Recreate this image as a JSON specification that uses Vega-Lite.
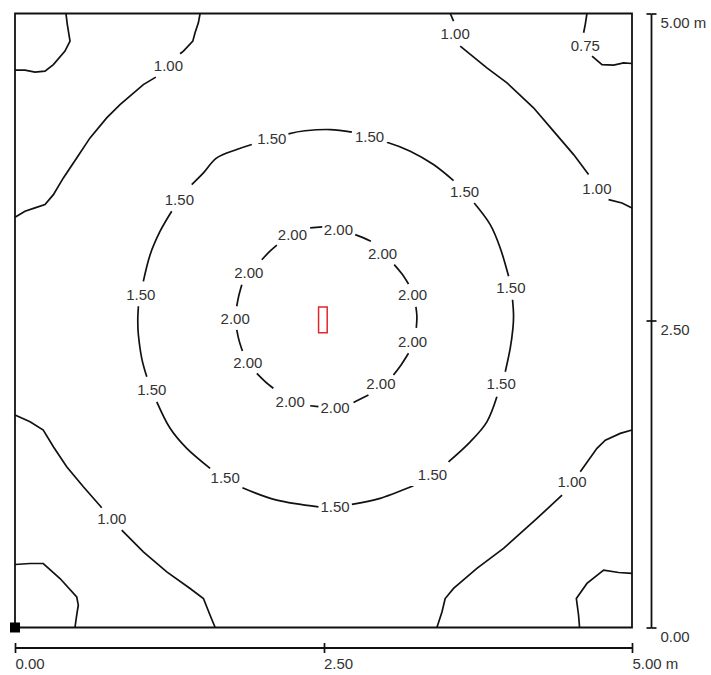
{
  "$schema": "https://vega.github.io/schema/vega-lite/v6.json",
  "width": 617,
  "height": 614,
  "autosize": "none",
  "padding": {"left": 15, "top": 13.5, "right": 79, "bottom": 47.5},
  "background": "white",
  "config": {
    "font": "Liberation Sans",
    "view": {"stroke": "#111111", "strokeWidth": 1.8},
    "axis": {"grid": false, "title": null}
  },
  "datasets": {
    "rings": [
      {"s": "r2a", "i": 1, "x": 3.252, "y": 2.44}, {"s": "r2a", "i": 2, "x": 3.257, "y": 2.53}, {"s": "r2a", "i": 3, "x": 3.249, "y": 2.61},
      {"s": "r2b", "i": 1, "x": 3.189, "y": 2.797}, {"s": "r2b", "i": 2, "x": 3.135, "y": 2.88}, {"s": "r2b", "i": 3, "x": 3.073, "y": 2.955},
      {"s": "r2c", "i": 1, "x": 2.884, "y": 3.145}, {"s": "r2c", "i": 2, "x": 2.82, "y": 3.175}, {"s": "r2c", "i": 3, "x": 2.757, "y": 3.199},
      {"s": "r2d", "i": 1, "x": 2.49, "y": 3.262}, {"s": "r2d", "i": 2, "x": 2.392, "y": 3.254},
      {"s": "r2e", "i": 1, "x": 2.122, "y": 3.113}, {"s": "r2e", "i": 2, "x": 2.06, "y": 3.058}, {"s": "r2e", "i": 3, "x": 2.0, "y": 2.995},
      {"s": "r2f", "i": 1, "x": 1.838, "y": 2.792}, {"s": "r2f", "i": 2, "x": 1.813, "y": 2.7}, {"s": "r2f", "i": 3, "x": 1.797, "y": 2.616},
      {"s": "r2g", "i": 1, "x": 1.797, "y": 2.423}, {"s": "r2g", "i": 2, "x": 1.815, "y": 2.34}, {"s": "r2g", "i": 3, "x": 1.843, "y": 2.251},
      {"s": "r2h", "i": 1, "x": 1.96, "y": 2.07}, {"s": "r2h", "i": 2, "x": 2.025, "y": 2.005}, {"s": "r2h", "i": 3, "x": 2.094, "y": 1.948},
      {"s": "r2i", "i": 1, "x": 2.392, "y": 1.806}, {"s": "r2i", "i": 2, "x": 2.459, "y": 1.798},
      {"s": "r2j", "i": 1, "x": 2.743, "y": 1.833}, {"s": "r2j", "i": 2, "x": 2.864, "y": 1.893},
      {"s": "r2k", "i": 1, "x": 3.067, "y": 2.056}, {"s": "r2k", "i": 2, "x": 3.13, "y": 2.14}, {"s": "r2k", "i": 3, "x": 3.189, "y": 2.233},
      {"s": "r15a", "i": 1, "x": 3.973, "y": 2.083}, {"s": "r15a", "i": 2, "x": 4.013, "y": 2.273}, {"s": "r15a", "i": 3, "x": 4.035, "y": 2.436}, {"s": "r15a", "i": 4, "x": 4.04, "y": 2.545}, {"s": "r15a", "i": 5, "x": 4.032, "y": 2.669},
      {"s": "r15b", "i": 1, "x": 4.0, "y": 2.86}, {"s": "r15b", "i": 2, "x": 3.932, "y": 3.091}, {"s": "r15b", "i": 3, "x": 3.851, "y": 3.281}, {"s": "r15b", "i": 4, "x": 3.721, "y": 3.457},
      {"s": "r15c", "i": 1, "x": 3.554, "y": 3.639}, {"s": "r15c", "i": 2, "x": 3.391, "y": 3.77}, {"s": "r15c", "i": 3, "x": 3.203, "y": 3.879}, {"s": "r15c", "i": 4, "x": 3.014, "y": 3.952},
      {"s": "r15d", "i": 1, "x": 2.73, "y": 4.034}, {"s": "r15d", "i": 2, "x": 2.554, "y": 4.055}, {"s": "r15d", "i": 3, "x": 2.35, "y": 4.045}, {"s": "r15d", "i": 4, "x": 2.216, "y": 4.02},
      {"s": "r15e", "i": 1, "x": 1.919, "y": 3.933}, {"s": "r15e", "i": 2, "x": 1.797, "y": 3.892}, {"s": "r15e", "i": 3, "x": 1.635, "y": 3.824}, {"s": "r15e", "i": 4, "x": 1.527, "y": 3.702}, {"s": "r15e", "i": 5, "x": 1.432, "y": 3.607},
      {"s": "r15f", "i": 1, "x": 1.27, "y": 3.39}, {"s": "r15f", "i": 2, "x": 1.176, "y": 3.227}, {"s": "r15f", "i": 3, "x": 1.095, "y": 3.036}, {"s": "r15f", "i": 4, "x": 1.04, "y": 2.819},
      {"s": "r15g", "i": 1, "x": 1.0, "y": 2.616}, {"s": "r15g", "i": 2, "x": 0.995, "y": 2.5}, {"s": "r15g", "i": 3, "x": 1.0, "y": 2.382}, {"s": "r15g", "i": 4, "x": 1.027, "y": 2.192}, {"s": "r15g", "i": 5, "x": 1.068, "y": 2.042},
      {"s": "r15h", "i": 1, "x": 1.149, "y": 1.838}, {"s": "r15h", "i": 2, "x": 1.257, "y": 1.622}, {"s": "r15h", "i": 3, "x": 1.392, "y": 1.459}, {"s": "r15h", "i": 4, "x": 1.581, "y": 1.296},
      {"s": "r15i", "i": 1, "x": 1.843, "y": 1.138}, {"s": "r15i", "i": 2, "x": 2.122, "y": 1.037}, {"s": "r15i", "i": 3, "x": 2.459, "y": 0.983},
      {"s": "r15j", "i": 1, "x": 2.73, "y": 1.002}, {"s": "r15j", "i": 2, "x": 2.959, "y": 1.051}, {"s": "r15j", "i": 3, "x": 3.229, "y": 1.154},
      {"s": "r15k", "i": 1, "x": 3.513, "y": 1.349}, {"s": "r15k", "i": 2, "x": 3.689, "y": 1.512}, {"s": "r15k", "i": 3, "x": 3.824, "y": 1.675}, {"s": "r15k", "i": 4, "x": 3.905, "y": 1.879}
    ],
    "edges": [
      {"s": "tl1", "i": 1, "x": 1.5, "y": 5.0}, {"s": "tl1", "i": 2, "x": 1.486, "y": 4.924}, {"s": "tl1", "i": 3, "x": 1.459, "y": 4.843}, {"s": "tl1", "i": 4, "x": 1.441, "y": 4.775}, {"s": "tl1", "i": 5, "x": 1.365, "y": 4.694}, {"s": "tl1", "i": 6, "x": 1.338, "y": 4.672},
      {"s": "tl2", "i": 1, "x": 1.141, "y": 4.482}, {"s": "tl2", "i": 2, "x": 1.04, "y": 4.421}, {"s": "tl2", "i": 3, "x": 0.851, "y": 4.258}, {"s": "tl2", "i": 4, "x": 0.743, "y": 4.15}, {"s": "tl2", "i": 5, "x": 0.608, "y": 3.987}, {"s": "tl2", "i": 6, "x": 0.5, "y": 3.824}, {"s": "tl2", "i": 7, "x": 0.392, "y": 3.661}, {"s": "tl2", "i": 8, "x": 0.311, "y": 3.525}, {"s": "tl2", "i": 9, "x": 0.243, "y": 3.444}, {"s": "tl2", "i": 10, "x": 0.162, "y": 3.417}, {"s": "tl2", "i": 11, "x": 0.081, "y": 3.39}, {"s": "tl2", "i": 12, "x": 0.0, "y": 3.341},
      {"s": "tlc", "i": 1, "x": 0.413, "y": 5.0}, {"s": "tlc", "i": 2, "x": 0.424, "y": 4.91}, {"s": "tlc", "i": 3, "x": 0.446, "y": 4.775}, {"s": "tlc", "i": 4, "x": 0.405, "y": 4.694}, {"s": "tlc", "i": 5, "x": 0.311, "y": 4.584}, {"s": "tlc", "i": 6, "x": 0.243, "y": 4.531}, {"s": "tlc", "i": 7, "x": 0.162, "y": 4.522}, {"s": "tlc", "i": 8, "x": 0.081, "y": 4.539}, {"s": "tlc", "i": 9, "x": 0.0, "y": 4.539},
      {"s": "tr1", "i": 1, "x": 3.527, "y": 5.0}, {"s": "tr1", "i": 2, "x": 3.554, "y": 4.938},
      {"s": "tr2", "i": 1, "x": 3.608, "y": 4.734}, {"s": "tr2", "i": 2, "x": 3.824, "y": 4.557}, {"s": "tr2", "i": 3, "x": 3.987, "y": 4.435}, {"s": "tr2", "i": 4, "x": 4.202, "y": 4.232}, {"s": "tr2", "i": 5, "x": 4.364, "y": 4.042}, {"s": "tr2", "i": 6, "x": 4.527, "y": 3.851}, {"s": "tr2", "i": 7, "x": 4.648, "y": 3.688},
      {"s": "tr3", "i": 1, "x": 4.81, "y": 3.484}, {"s": "tr3", "i": 2, "x": 4.919, "y": 3.457}, {"s": "tr3", "i": 3, "x": 5.0, "y": 3.417},
      {"s": "trc1", "i": 1, "x": 4.635, "y": 5.0}, {"s": "trc1", "i": 2, "x": 4.621, "y": 4.91}, {"s": "trc1", "i": 3, "x": 4.608, "y": 4.843},
      {"s": "trc2", "i": 1, "x": 4.676, "y": 4.653}, {"s": "trc2", "i": 2, "x": 4.757, "y": 4.584}, {"s": "trc2", "i": 3, "x": 4.851, "y": 4.579}, {"s": "trc2", "i": 4, "x": 4.932, "y": 4.598}, {"s": "trc2", "i": 5, "x": 5.0, "y": 4.593},
      {"s": "br1", "i": 1, "x": 5.0, "y": 1.608}, {"s": "br1", "i": 2, "x": 4.905, "y": 1.581}, {"s": "br1", "i": 3, "x": 4.784, "y": 1.526}, {"s": "br1", "i": 4, "x": 4.716, "y": 1.459}, {"s": "br1", "i": 5, "x": 4.581, "y": 1.268},
      {"s": "br2", "i": 1, "x": 4.433, "y": 1.078}, {"s": "br2", "i": 2, "x": 4.23, "y": 0.888}, {"s": "br2", "i": 3, "x": 3.959, "y": 0.644}, {"s": "br2", "i": 4, "x": 3.743, "y": 0.481}, {"s": "br2", "i": 5, "x": 3.554, "y": 0.318}, {"s": "br2", "i": 6, "x": 3.486, "y": 0.236}, {"s": "br2", "i": 7, "x": 3.46, "y": 0.127}, {"s": "br2", "i": 8, "x": 3.419, "y": 0.0},
      {"s": "brc", "i": 1, "x": 5.0, "y": 0.44}, {"s": "brc", "i": 2, "x": 4.892, "y": 0.448}, {"s": "brc", "i": 3, "x": 4.77, "y": 0.467}, {"s": "brc", "i": 4, "x": 4.635, "y": 0.359}, {"s": "brc", "i": 5, "x": 4.549, "y": 0.236}, {"s": "brc", "i": 6, "x": 4.567, "y": 0.1}, {"s": "brc", "i": 7, "x": 4.575, "y": 0.0},
      {"s": "bl1", "i": 1, "x": 0.0, "y": 1.73}, {"s": "bl1", "i": 2, "x": 0.122, "y": 1.675}, {"s": "bl1", "i": 3, "x": 0.229, "y": 1.608}, {"s": "bl1", "i": 4, "x": 0.311, "y": 1.472}, {"s": "bl1", "i": 5, "x": 0.419, "y": 1.309}, {"s": "bl1", "i": 6, "x": 0.554, "y": 1.146}, {"s": "bl1", "i": 7, "x": 0.703, "y": 0.975},
      {"s": "bl2", "i": 1, "x": 0.865, "y": 0.793}, {"s": "bl2", "i": 2, "x": 1.04, "y": 0.616}, {"s": "bl2", "i": 3, "x": 1.23, "y": 0.453}, {"s": "bl2", "i": 4, "x": 1.419, "y": 0.318}, {"s": "bl2", "i": 5, "x": 1.527, "y": 0.236}, {"s": "bl2", "i": 6, "x": 1.581, "y": 0.1}, {"s": "bl2", "i": 7, "x": 1.622, "y": 0.0},
      {"s": "blc", "i": 1, "x": 0.0, "y": 0.513}, {"s": "blc", "i": 2, "x": 0.122, "y": 0.521}, {"s": "blc", "i": 3, "x": 0.229, "y": 0.521}, {"s": "blc", "i": 4, "x": 0.365, "y": 0.399}, {"s": "blc", "i": 5, "x": 0.5, "y": 0.249}, {"s": "blc", "i": 6, "x": 0.513, "y": 0.182}, {"s": "blc", "i": 7, "x": 0.5, "y": 0.1}, {"s": "blc", "i": 8, "x": 0.486, "y": 0.0}
    ],
    "labels": [
      {"t": "1.00", "x": 1.243, "y": 4.571},
      {"t": "1.00", "x": 3.567, "y": 4.829},
      {"t": "1.00", "x": 4.716, "y": 3.572},
      {"t": "1.00", "x": 4.514, "y": 1.182},
      {"t": "1.00", "x": 0.784, "y": 0.882},
      {"t": "0.75", "x": 4.621, "y": 4.739},
      {"t": "1.50", "x": 2.081, "y": 3.979},
      {"t": "1.50", "x": 2.873, "y": 3.998},
      {"t": "1.50", "x": 3.643, "y": 3.547},
      {"t": "1.50", "x": 4.019, "y": 2.765},
      {"t": "1.50", "x": 3.94, "y": 1.983},
      {"t": "1.50", "x": 3.383, "y": 1.241},
      {"t": "1.50", "x": 2.594, "y": 0.983},
      {"t": "1.50", "x": 1.703, "y": 1.214},
      {"t": "1.50", "x": 1.108, "y": 1.934},
      {"t": "1.50", "x": 1.019, "y": 2.71},
      {"t": "1.50", "x": 1.332, "y": 3.479},
      {"t": "2.00", "x": 2.248, "y": 3.194},
      {"t": "2.00", "x": 2.621, "y": 3.24},
      {"t": "2.00", "x": 2.978, "y": 3.042},
      {"t": "2.00", "x": 3.221, "y": 2.705},
      {"t": "2.00", "x": 3.221, "y": 2.327},
      {"t": "2.00", "x": 2.965, "y": 1.98},
      {"t": "2.00", "x": 2.594, "y": 1.789},
      {"t": "2.00", "x": 2.23, "y": 1.838},
      {"t": "2.00", "x": 1.887, "y": 2.156},
      {"t": "2.00", "x": 1.784, "y": 2.512},
      {"t": "2.00", "x": 1.895, "y": 2.887}
    ],
    "lum": [{"x1": 2.46, "x2": 2.53, "y1": 2.4, "y2": 2.61}],
    "origin": [{"x": 0, "y": 0}]
  },
  "layer": [
    {
      "data": {"name": "rings"},
      "mark": {"type": "line", "interpolate": "cardinal", "color": "#111111", "strokeWidth": 1.7},
      "encoding": {
        "x": {"field": "x", "type": "quantitative", "scale": {"domain": [0, 5], "nice": false, "zero": false},
          "axis": {"orient": "bottom", "offset": 20, "values": [0, 2.5, 5], "tickSize": 5, "tickWidth": 1.7, "tickColor": "#111111", "domainColor": "#111111", "domainWidth": 1.8,
            "labelAlign": "left", "labelBaseline": "top", "labelPadding": 4, "labelFontSize": 15, "labelFont": "Liberation Sans", "labelColor": "#333333",
            "labelFlush": false, "labelOverlap": false, "labelBound": false,
            "labelExpr": "datum.value == 5 ? '5.00 m' : format(datum.value, '.2f')"}},
        "y": {"field": "y", "type": "quantitative", "scale": {"domain": [0, 5], "nice": false, "zero": false},
          "axis": {"orient": "right", "offset": 19, "values": [0, 2.5, 5], "tickSize": 5, "tickWidth": 1.7, "tickColor": "#111111", "domainColor": "#111111", "domainWidth": 1.8,
            "labelAlign": "left", "labelBaseline": "top", "labelPadding": 4, "labelOffset": 2, "labelFontSize": 15, "labelFont": "Liberation Sans", "labelColor": "#333333",
            "labelFlush": false, "labelOverlap": false, "labelBound": false,
            "labelExpr": "datum.value == 5 ? '5.00 m' : format(datum.value, '.2f')"}},
        "detail": {"field": "s"},
        "order": {"field": "i", "type": "quantitative"}
      }
    },
    {
      "data": {"name": "edges"},
      "mark": {"type": "line", "interpolate": "linear", "color": "#111111", "strokeWidth": 1.7},
      "encoding": {
        "x": {"field": "x", "type": "quantitative", "scale": {"domain": [0, 5], "nice": false, "zero": false},
          "axis": {"orient": "bottom", "offset": 20, "values": [0, 2.5, 5], "tickSize": -5, "tickWidth": 1.7, "tickColor": "#111111", "domain": false, "labels": false}},
        "y": {"field": "y", "type": "quantitative", "scale": {"domain": [0, 5], "nice": false, "zero": false},
          "axis": {"orient": "right", "offset": 19, "values": [0, 2.5, 5], "tickSize": -5, "tickWidth": 1.7, "tickColor": "#111111", "domain": false, "labels": false}},
        "detail": {"field": "s"},
        "order": {"field": "i", "type": "quantitative"}
      }
    },
    {
      "data": {"name": "labels"},
      "mark": {"type": "text", "font": "Liberation Sans", "fontSize": 15, "color": "#333333", "align": "center", "baseline": "middle"},
      "encoding": {
        "x": {"field": "x", "type": "quantitative", "axis": null},
        "y": {"field": "y", "type": "quantitative", "axis": null},
        "text": {"field": "t"}
      }
    },
    {
      "data": {"name": "lum"},
      "mark": {"type": "rect", "fill": null, "fillOpacity": 0, "stroke": "#e3262b", "strokeWidth": 1.5},
      "encoding": {
        "x": {"field": "x1", "type": "quantitative", "axis": null},
        "x2": {"field": "x2"},
        "y": {"field": "y1", "type": "quantitative", "axis": null},
        "y2": {"field": "y2"}
      }
    },
    {
      "data": {"name": "origin"},
      "mark": {"type": "point", "shape": "square", "size": 100, "filled": true, "color": "#000000", "opacity": 1},
      "encoding": {
        "x": {"field": "x", "type": "quantitative", "axis": null},
        "y": {"field": "y", "type": "quantitative", "axis": null}
      }
    }
  ],
  "resolve": {"axis": {"x": "independent", "y": "independent"}}
}
